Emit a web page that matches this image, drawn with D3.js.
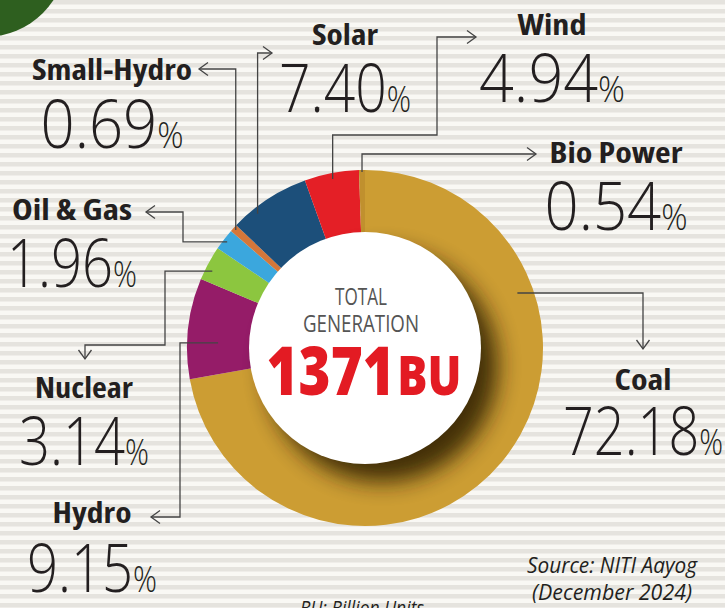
<!DOCTYPE html>
<html lang="en">
<head>
<meta charset="UTF-8">
<title>Power generation mix</title>
<script src="https://d3js.org/d3.v7.min.js"></script>
<style>
  body { margin: 0; background: #f8f7f3; }
  svg { display: block; }
  .lbl { font-family: "Open Sans", sans-serif; font-weight: 700; font-stretch: condensed; fill: #231f20; }
  .num { font-family: "Open Sans", sans-serif; font-weight: 300; fill: #231f20; }
  .link { fill: none; stroke: #444; stroke-width: 1.3; }
  .note { font-family: "Open Sans", sans-serif; font-style: italic; font-weight: 400; fill: #231f20; }
  .mid { font-family: "Open Sans", sans-serif; font-weight: 400; fill: #555; }
</style>
</head>
<body>
<svg width="725" height="608"></svg>
<script>
// data
const sources = ["Coal", "Hydro", "Nuclear", "Oil & Gas", "Small-Hydro", "Solar", "Wind", "Bio Power"];
const shares = [72.18, 9.15, 3.14, 1.96, 0.69, 7.40, 4.94, 0.54];
const totalBU = 1371;
const sourceNote = ["Source: NITI Aayog", "(December 2024)"];

// colours
const color = d3.scaleOrdinal()
  .domain(sources)
  .range(["#cc9d33", "#951c68", "#8cc63f", "#3ba7dd", "#d4773a", "#1c4f7a", "#e41f26", "#c0902e"]);

// label placement: centre x, label baseline, number baseline, widths
const place = {
  "Coal":        { x: 643, ly: 390, lw: 57,  ny: 455, nw: 160 },
  "Hydro":       { x: 92,  ly: 523, lw: 79,  ny: 592, nw: 130 },
  "Nuclear":     { x: 84,  ly: 398, lw: 98,  ny: 465, nw: 130 },
  "Oil & Gas":   { x: 72,  ly: 220, lw: 120, ny: 287, nw: 130 },
  "Small-Hydro": { x: 112, ly: 80,  lw: 160, ny: 148, nw: 143 },
  "Solar":       { x: 345, ly: 45,  lw: 66,  ny: 112, nw: 132 },
  "Wind":        { x: 552, ly: 35,  lw: 69,  ny: 102, nw: 146 },
  "Bio Power":   { x: 616, ly: 163, lw: 133, ny: 230, nw: 143 }
};

// leader lines: where they leave the slice, then h/v legs
const leaders = {
  "Coal":        { t: 0.27, r: 162, path: [["h", 643], ["v", 349]] },
  "Hydro":       { t: 0.37, r: 147, path: [["h", 180], ["v", 517], ["h", 151]] },
  "Nuclear":     { t: 0.35, r: 171, path: [["h", 165], ["v", 345], ["h", 85], ["v", 359]] },
  "Oil & Gas":   { t: 0.5,  r: 174, path: [["h", 183], ["v", 212], ["h", 146]] },
  "Small-Hydro": { t: 0.5,  r: 175, path: [["v", 69], ["h", 199]] },
  "Solar":       { t: 0.29, r: 172, path: [["v", 53], ["h", 272]] },
  "Wind":        { t: 0.5,  r: 172, path: [["v", 135], ["h", 437], ["v", 37], ["h", 476]] },
  "Bio Power":   { t: 0.5,  r: 176, path: [["v", 154], ["h", 536]] }
};

const W = 725, H = 608;
const cx = 365, cy = 348, R = 178, r0 = 112, rWhite = 116;

const svg = d3.select("svg");
const defs = svg.append("defs");

// striped background
const pat = defs.append("pattern")
  .attr("id", "stripes").attr("patternUnits", "userSpaceOnUse")
  .attr("width", 10).attr("height", 9);
pat.append("rect").attr("width", 10).attr("height", 9).attr("fill", "#f9f8f4");
pat.append("rect").attr("width", 10).attr("height", 4.5).attr("fill", "#e5e3de");
svg.append("rect").attr("width", W).attr("height", H).attr("fill", "url(#stripes)");

// green blob top-left
svg.append("circle").attr("cx", -15).attr("cy", -45).attr("r", 82).attr("fill", "#2e5f1f");

// arrow head
defs.append("marker")
  .attr("id", "arr").attr("viewBox", "-11 -8 13 16")
  .attr("refX", 0).attr("refY", 0)
  .attr("markerWidth", 13).attr("markerHeight", 16)
  .attr("markerUnits", "userSpaceOnUse").attr("orient", "auto")
  .append("path").attr("d", "M-9,-6.5L0,0L-9,6.5")
  .attr("fill", "none").attr("stroke", "#444").attr("stroke-width", 1.3);

// shadow blur + ring clip
defs.append("filter").attr("id", "blur").attr("x", "-50%").attr("y", "-50%")
  .attr("width", "200%").attr("height", "200%")
  .append("feGaussianBlur").attr("stdDeviation", 11);
defs.append("clipPath").attr("id", "ring")
  .append("circle").attr("cx", cx).attr("cy", cy).attr("r", R);

const pie = d3.pie().sort(null).value(d => d);
const arcs = pie(shares).map((d, i) => Object.assign(d, { name: sources[i] }));
const arc = d3.arc().innerRadius(r0).outerRadius(R);

const g = svg.append("g").attr("transform", `translate(${cx},${cy})`);
g.selectAll("path.slice")
  .data(arcs)
  .enter().append("path")
  .attr("class", "slice")
  .attr("d", arc)
  .attr("fill", d => color(d.name));

// shadow of the white disc on the ring
svg.append("g").attr("clip-path", "url(#ring)")
  .append("circle")
  .attr("cx", cx + 17).attr("cy", cy + 18).attr("r", rWhite)
  .attr("fill", "#2a1d03").attr("opacity", 0.85)
  .attr("filter", "url(#blur)");

svg.append("circle").attr("cx", cx).attr("cy", cy).attr("r", rWhite).attr("fill", "#ffffff");

// leader lines
arcs.forEach(d => {
  const L = leaders[d.name];
  const a = d.startAngle + L.t * (d.endAngle - d.startAngle);
  let x = cx + L.r * Math.sin(a), y = cy - L.r * Math.cos(a);
  const pts = [[x, y]];
  L.path.forEach(([k, v]) => {
    if (k === "h") x = v; else y = v;
    pts.push([x, y]);
  });
  svg.append("path").attr("class", "link")
    .attr("d", d3.line()(pts))
    .attr("marker-end", "url(#arr)");
});

// labels
arcs.forEach(d => {
  const p = place[d.name];
  svg.append("text").attr("class", "lbl")
    .attr("x", p.x).attr("y", p.ly)
    .attr("text-anchor", "middle")
    .attr("font-size", 28)
    .attr("textLength", p.lw).attr("lengthAdjust", "spacingAndGlyphs")
    .text(d.name);
  const t = svg.append("text").attr("class", "num")
    .attr("x", p.x).attr("y", p.ny)
    .attr("text-anchor", "middle")
    .attr("textLength", p.nw).attr("lengthAdjust", "spacingAndGlyphs");
  t.append("tspan").attr("font-size", 66).text(d.value.toFixed(2));
  t.append("tspan").attr("font-size", 36).text("%");
});

// centre text
svg.append("text").attr("class", "mid")
  .attr("x", cx - 4).attr("y", 305).attr("text-anchor", "middle")
  .attr("font-size", 23).attr("textLength", 52).attr("lengthAdjust", "spacingAndGlyphs")
  .text("TOTAL");
svg.append("text").attr("class", "mid")
  .attr("x", cx - 4).attr("y", 332).attr("text-anchor", "middle")
  .attr("font-size", 23).attr("textLength", 116).attr("lengthAdjust", "spacingAndGlyphs")
  .text("GENERATION");
const big = svg.append("text")
  .attr("x", cx - 1).attr("y", 395).attr("text-anchor", "middle")
  .attr("font-family", "'Open Sans', sans-serif").attr("font-weight", 800)
  .attr("fill", "#e31b23")
  .attr("textLength", 195).attr("lengthAdjust", "spacingAndGlyphs");
big.append("tspan").attr("font-size", 67).text(totalBU);
big.append("tspan").attr("font-size", 55).attr("dx", 3).text("BU");

// notes
svg.append("text").attr("class", "note")
  .attr("x", 612).attr("y", 573).attr("text-anchor", "middle")
  .attr("font-size", 22).attr("textLength", 170).attr("lengthAdjust", "spacingAndGlyphs")
  .text(sourceNote[0]);
svg.append("text").attr("class", "note")
  .attr("x", 612).attr("y", 600).attr("text-anchor", "middle")
  .attr("font-size", 22).attr("textLength", 160).attr("lengthAdjust", "spacingAndGlyphs")
  .text(sourceNote[1]);
svg.append("text").attr("class", "note")
  .attr("x", 300).attr("y", 615)
  .attr("font-size", 20).attr("textLength", 124).attr("lengthAdjust", "spacingAndGlyphs")
  .text("BU: Billion Units");
</script>
</body>
</html>
